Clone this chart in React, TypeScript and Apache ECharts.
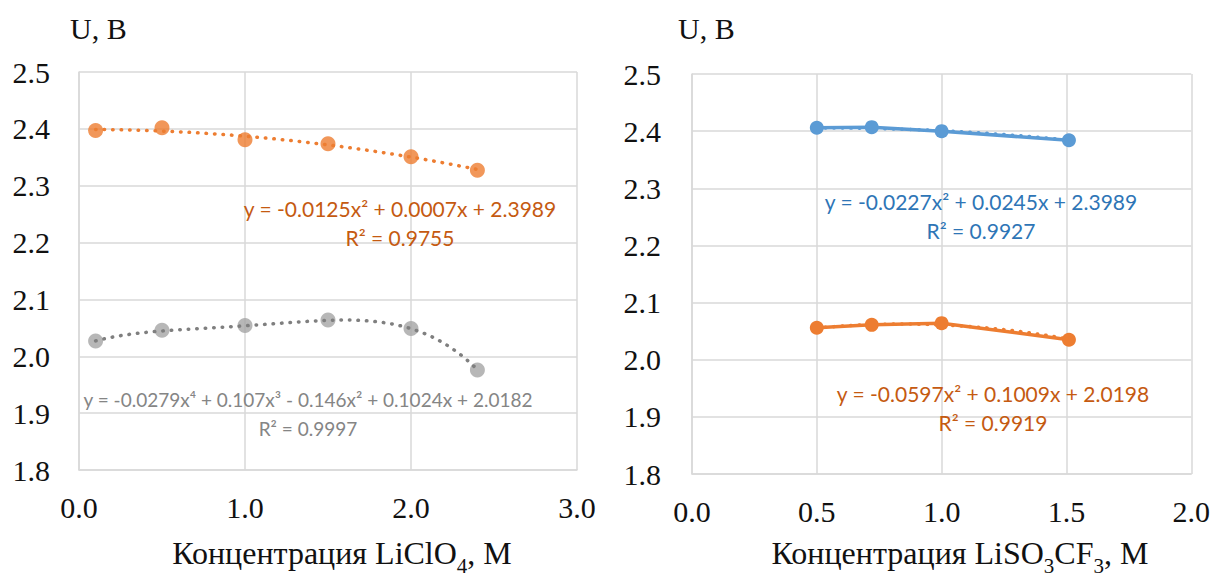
import React, { useEffect, useRef } from "react";
import * as echarts from "echarts";

// LiClO4 electrolyte: concentration (M) and the two measured voltage series (V)
const liclo4Conc = [0.1, 0.5, 1.0, 1.5, 2.0, 2.4];
const liclo4UpperU = [2.397, 2.402, 2.381, 2.374, 2.351, 2.327];
const liclo4LowerU = [2.027, 2.046, 2.054, 2.064, 2.049, 1.976];

// LiSO3CF3 electrolyte
const liso3cf3Conc = [0.5, 0.72, 1.0, 1.51];
const liso3cf3UpperU = [2.406, 2.407, 2.4, 2.384];
const liso3cf3LowerU = [2.056, 2.061, 2.064, 2.035];

// Polynomial trendline coefficients, highest power first
const liclo4UpperFit = [-0.0125, 0.0007, 2.3989];
const liclo4LowerFit = [-0.0279, 0.107, -0.146, 0.1024, 2.0182];
const liso3cf3UpperFit = [-0.0227, 0.0245, 2.3989];
const liso3cf3LowerFit = [-0.0597, 0.1009, 2.0198];

// Trendline equation labels
const liclo4UpperLabel = ["y = -0.0125x² + 0.0007x + 2.3989", "R² = 0.9755"];
const liclo4LowerLabel = ["y = -0.0279x⁴ + 0.107x³ - 0.146x² + 0.1024x + 2.0182", "R² = 0.9997"];
const liso3cf3UpperLabel = ["y = -0.0227x² + 0.0245x + 2.3989", "R² = 0.9927"];
const liso3cf3LowerLabel = ["y = -0.0597x² + 0.1009x + 2.0198", "R² = 0.9919"];

// Axis ranges
const voltRange = [1.8, 2.5];
const voltStep = 0.1;
const liclo4ConcRange = [0, 3];
const liclo4ConcStep = 1;
const liso3cf3ConcRange = [0, 2];
const liso3cf3ConcStep = 0.5;

const ORANGE = "#ED7D31";
const ORANGE_TEXT = "#C55A11";
const GREY = "#A5A5A5";
const GREY_TREND = "#7F7F7F";
const GREY_TEXT = "#858585";
const BLUE = "#5B9BD5";
const BLUE_TEXT = "#2E75B6";
const GRID = "#D9D9D9";
const SERIF = "Liberation Serif";
const SANS = "Lato";

function polyAt(coeffs: number[], x: number): number {
  return coeffs.reduce((acc, c) => acc * x + c, 0);
}

function trendCurve(coeffs: number[], xs: number[]): number[][] {
  const from = xs[0];
  const to = xs[xs.length - 1];
  const n = 60;
  const out: number[][] = [];
  for (let i = 0; i <= n; i++) {
    const x = from + ((to - from) * i) / n;
    out.push([x, polyAt(coeffs, x)]);
  }
  return out;
}

function pairs(xs: number[], ys: number[]): number[][] {
  return xs.map((x, i) => [x, ys[i]]);
}

const tickLabel = {
  fontFamily: SERIF,
  fontSize: 30,
  color: "#111",
};

function valueXAxis(gridIndex: number, range: number[], step: number) {
  return {
    type: "value",
    gridIndex,
    min: range[0],
    max: range[1],
    interval: step,
    axisLine: { show: true, lineStyle: { color: GRID, width: 1.5 } },
    axisTick: { show: false },
    splitLine: { show: true, lineStyle: { color: GRID, width: 1.5 } },
    axisLabel: { ...tickLabel, margin: 22, formatter: (v: number) => v.toFixed(1) },
  };
}

function valueYAxis(gridIndex: number, margin: number) {
  return {
    type: "value",
    gridIndex,
    min: voltRange[0],
    max: voltRange[1],
    interval: voltStep,
    axisLine: { show: true, lineStyle: { color: GRID, width: 1.5 } },
    axisTick: { show: false },
    splitLine: { show: true, lineStyle: { color: GRID, width: 1.5 } },
    axisLabel: { ...tickLabel, margin, formatter: (v: number) => v.toFixed(1) },
  };
}

function dottedTrend(idx: number, coeffs: number[], xs: number[], color: string, z: number) {
  return {
    type: "line",
    xAxisIndex: idx,
    yAxisIndex: idx,
    data: trendCurve(coeffs, xs),
    showSymbol: false,
    symbol: "none",
    silent: true,
    z,
    lineStyle: { color, width: 3.5, type: [0.5, 8], cap: "round" },
  };
}

function equationLabel(lines: string[], x: number, y: number, color: string, size: number) {
  return {
    type: "text",
    x,
    y,
    z: 100,
    style: {
      text: lines.join("\n"),
      fill: color,
      fontFamily: SANS,
      fontSize: size,
      align: "center",
      verticalAlign: "middle",
      lineHeight: 29,
    },
  };
}

function axisTitle(parts: [string, boolean][], x: number, y: number) {
  const text = parts.map(([t, sub]) => (sub ? `{s|${t}}` : `{n|${t}}`)).join("");
  return {
    type: "text",
    x,
    y,
    style: {
      text,
      fill: "#111",
      align: "center",
      verticalAlign: "middle",
      rich: {
        n: { fontFamily: SERIF, fontSize: 32, lineHeight: 46, fill: "#111", verticalAlign: "middle" },
        s: { fontFamily: SERIF, fontSize: 21, lineHeight: 46, fill: "#111", verticalAlign: "bottom" },
      },
    },
  };
}

function unitTitle(x: number, y: number) {
  return {
    type: "text",
    x,
    y,
    style: {
      text: "U, B",
      fill: "#111",
      fontFamily: SERIF,
      fontSize: 30,
      align: "left",
      verticalAlign: "middle",
    },
  };
}

export default function App() {
  const ref = useRef<HTMLDivElement>(null);

  useEffect(() => {
    if (!ref.current) return;
    const chart = echarts.init(ref.current, null, { renderer: "svg" });

    const option = {
      animation: false,
      backgroundColor: "#fff",
      textStyle: { fontFamily: SERIF },
      grid: [
        { left: 79, top: 72, width: 498, height: 398 },
        { left: 692, top: 74, width: 500, height: 400 },
      ],
      xAxis: [
        valueXAxis(0, liclo4ConcRange, liclo4ConcStep),
        valueXAxis(1, liso3cf3ConcRange, liso3cf3ConcStep),
      ],
      yAxis: [valueYAxis(0, 29), valueYAxis(1, 31)],
      series: [
        // LiClO4 panel: markers with dotted polynomial trendlines
        {
          type: "scatter",
          xAxisIndex: 0,
          yAxisIndex: 0,
          data: pairs(liclo4Conc, liclo4UpperU),
          symbol: "circle",
          symbolSize: 15,
          itemStyle: { color: ORANGE },
          z: 3,
        },
        {
          type: "scatter",
          xAxisIndex: 0,
          yAxisIndex: 0,
          data: pairs(liclo4Conc, liclo4LowerU),
          symbol: "circle",
          symbolSize: 15,
          itemStyle: { color: GREY },
          z: 3,
        },
        dottedTrend(0, liclo4UpperFit, liclo4Conc, ORANGE, 4),
        dottedTrend(0, liclo4LowerFit, liclo4Conc, GREY_TREND, 4),

        // LiSO3CF3 panel: solid lines with markers over dotted trendlines
        dottedTrend(1, liso3cf3UpperFit, liso3cf3Conc, BLUE, 2),
        dottedTrend(1, liso3cf3LowerFit, liso3cf3Conc, ORANGE, 2),
        {
          type: "line",
          xAxisIndex: 1,
          yAxisIndex: 1,
          data: pairs(liso3cf3Conc, liso3cf3UpperU),
          symbol: "circle",
          symbolSize: 14,
          showSymbol: true,
          lineStyle: { color: BLUE, width: 3.5 },
          itemStyle: { color: BLUE },
          z: 3,
        },
        {
          type: "line",
          xAxisIndex: 1,
          yAxisIndex: 1,
          data: pairs(liso3cf3Conc, liso3cf3LowerU),
          symbol: "circle",
          symbolSize: 14,
          showSymbol: true,
          lineStyle: { color: ORANGE, width: 3.5 },
          itemStyle: { color: ORANGE },
          z: 3,
        },
      ],
      graphic: [
        unitTitle(70, 28),
        unitTitle(678, 28),
        axisTitle([["Концентрация LiClO", false], ["4", true], [", M", false]], 342, 553),
        axisTitle([["Концентрация LiSO", false], ["3", true], ["CF", false], ["3", true], [", M", false]], 960, 553),
        equationLabel(liclo4UpperLabel, 400, 223, ORANGE_TEXT, 21),
        equationLabel(liclo4LowerLabel, 308, 414, GREY_TEXT, 19),
        equationLabel(liso3cf3UpperLabel, 981, 216, BLUE_TEXT, 21),
        equationLabel(liso3cf3LowerLabel, 993, 408, ORANGE_TEXT, 21),
      ],
    };

    chart.setOption(option as any);
    return () => chart.dispose();
  }, []);

  return (
    <div
      ref={ref}
      style={{ position: "fixed", left: 0, top: 0, width: 1213, height: 577, background: "#fff" }}
    />
  );
}
